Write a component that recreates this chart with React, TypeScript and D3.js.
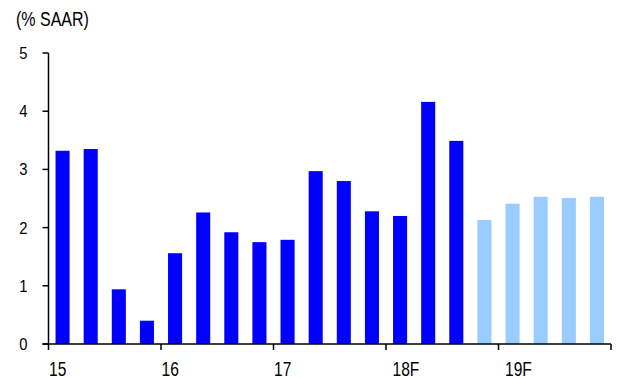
import React from "react";
import * as d3 from "d3";

// Quarterly growth, % SAAR, 2015Q1–2019Q4
const quarters = [
  "15Q1", "15Q2", "15Q3", "15Q4",
  "16Q1", "16Q2", "16Q3", "16Q4",
  "17Q1", "17Q2", "17Q3", "17Q4",
  "18Q1", "18Q2", "18Q3", "18Q4",
  "19Q1", "19Q2", "19Q3", "19Q4",
];
const growth = [
  3.32, 3.35, 0.94, 0.4,
  1.56, 2.26, 1.92, 1.75,
  1.79, 2.97, 2.8, 2.28,
  2.2, 4.16, 3.49, 2.13,
  2.41, 2.53, 2.51, 2.53,
];
// first forecast quarter
const forecastFrom = "18Q4";
const yearLabels = ["15", "16", "17", "18F", "19F"];
const yTicks = [0, 1, 2, 3, 4, 5];

const W = 635;
const H = 378;
const left = 48.5;
const right = 611;
const top = 53;
const bottom = 344;
const font = "'Liberation Sans', Arial, sans-serif";

// Narrow text: regular sans squeezed horizontally
function NarrowText(props: {
  x: number; y: number; size: number; sx: number; anchor?: string; children: React.ReactNode;
}) {
  const { x, y, size, sx, anchor = "start", children } = props;
  return (
    <g transform={`translate(${x},${y}) scale(${sx},1)`}>
      <text x={0} y={0} textAnchor={anchor} fontFamily={font} fontSize={size} fill="#000">
        {children}
      </text>
    </g>
  );
}

export default function App() {
  const x = d3.scaleBand<string>().domain(quarters).range([left, right]).paddingInner(0.5).paddingOuter(0.25);
  const y = d3.scaleLinear().domain([0, 5]).range([bottom, top]);
  const yearX = d3.scaleLinear().domain([0, yearLabels.length]).range([left, right]);
  const fIdx = quarters.indexOf(forecastFrom);

  return (
    <svg width={W} height={H} style={{ position: "absolute", left: 0, top: 0, background: "#fff" }}>
      <NarrowText x={16} y={25.5} size={20} sx={0.8}>(% SAAR)</NarrowText>

      {quarters.map((q, i) => (
        <rect
          key={q}
          x={x(q)}
          y={y(growth[i])}
          width={x.bandwidth()}
          height={bottom - y(growth[i])}
          fill={i >= fIdx ? "#99CCFF" : "#0000FF"}
        />
      ))}

      {/* y axis */}
      <line x1={left} x2={left} y1={top} y2={bottom} stroke="#000" strokeWidth={1.5} />
      {yTicks.map((t) => (
        <g key={t}>
          <line x1={left - 6} x2={left} y1={y(t)} y2={y(t)} stroke="#000" strokeWidth={1.5} />
          <NarrowText x={27.5} y={y(t) + 6} size={17} sx={0.87} anchor="end">{t}</NarrowText>
        </g>
      ))}

      {/* x axis */}
      <line x1={left - 6} x2={right} y1={bottom} y2={bottom} stroke="#000" strokeWidth={1.5} />
      {d3.range(yearLabels.length + 1).map((i) => (
        <line key={i} x1={yearX(i)} x2={yearX(i)} y1={bottom} y2={bottom + 6} stroke="#000" strokeWidth={1.5} />
      ))}
      {yearLabels.map((l, i) => (
        <NarrowText key={l} x={yearX(i) + (l.endsWith("F") ? 6.5 : 0.5)} y={376} size={20} sx={0.78}>{l}</NarrowText>
      ))}
    </svg>
  );
}
